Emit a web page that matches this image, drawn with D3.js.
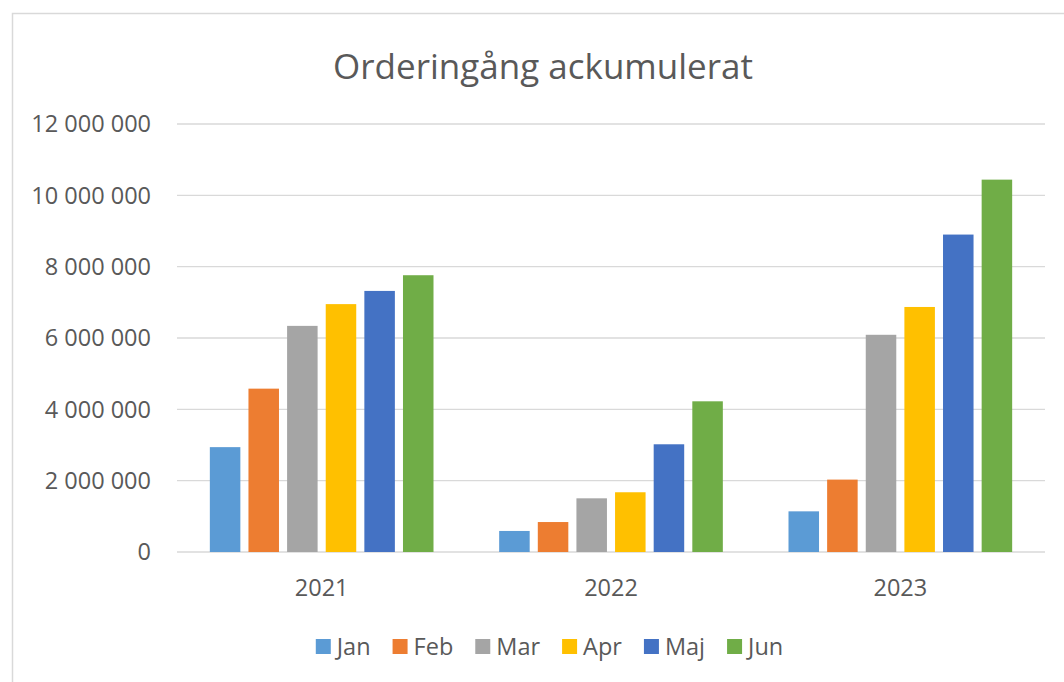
<!DOCTYPE html>
<html>
<head>
<meta charset="utf-8">
<script src="https://cdn.jsdelivr.net/npm/d3@7"></script>
<style>
  body { margin: 0; background: #fff; }
  text { font-family: "Open Sans", sans-serif; fill: #595959; }
</style>
</head>
<body>
<svg id="chart" width="1064" height="682"></svg>
<script>
// chart data
const years = ['2021', '2022', '2023'];
const months = ['Jan', 'Feb', 'Mar', 'Apr', 'Maj', 'Jun'];
const jan = [2940000, 590000, 1140000];
const feb = [4580000, 840000, 2030000];
const mar = [6340000, 1505000, 6090000];
const apr = [6950000, 1675000, 6870000];
const maj = [7320000, 3020000, 8900000];
const jun = [7760000, 4225000, 10440000];
const yTicks = [0, 2000000, 4000000, 6000000, 8000000, 10000000, 12000000];
const colors = ['#5b9bd5', '#ed7d31', '#a5a5a5', '#ffc000', '#4472c4', '#70ad47'];

const series = [jan, feb, mar, apr, maj, jun];

const svg = d3.select('#chart');
const width = 1064;
const height = 682;
const margin = { top: 124, right: 19, bottom: 130, left: 177 };

// outer frame
svg.append('rect')
  .attr('x', 12.5).attr('y', 13.5)
  .attr('width', width).attr('height', height)
  .attr('fill', '#fff')
  .attr('stroke', '#d9d9d9')
  .attr('stroke-width', 1.5);

svg.append('text')
  .attr('x', 543)
  .attr('y', 79)
  .attr('text-anchor', 'middle')
  .style('font-size', '35px')
  .text('Orderingång ackumulerat');

const x0 = d3.scaleBand()
  .domain(years)
  .range([margin.left, width - margin.right]);

const x1 = d3.scaleBand()
  .domain(months)
  .range([0, x0.bandwidth()])
  .paddingInner(0.21)
  .paddingOuter(0.85);

const y = d3.scaleLinear()
  .domain([0, 12000000])
  .range([height - margin.bottom, margin.top]);

const fmt = v => d3.format(',')(v).replace(/,/g, ' ');

// gridlines
svg.append('g')
  .selectAll('line')
  .data(yTicks)
  .enter().append('line')
  .attr('x1', margin.left)
  .attr('x2', width - margin.right)
  .attr('y1', d => y(d))
  .attr('y2', d => y(d))
  .attr('stroke', '#d9d9d9')
  .attr('stroke-width', 1.3);

// y labels
svg.append('g')
  .selectAll('text')
  .data(yTicks)
  .enter().append('text')
  .attr('x', 151)
  .attr('y', d => y(d))
  .attr('dy', '0.35em')
  .attr('text-anchor', 'end')
  .style('font-size', '23.5px')
  .text(d => fmt(d));

// bars
const groups = svg.append('g')
  .selectAll('g')
  .data(years)
  .enter().append('g')
  .attr('transform', d => `translate(${x0(d)},0)`);

groups.selectAll('rect')
  .data((d, i) => months.map((m, j) => ({ month: m, value: series[j][i], color: colors[j] })))
  .enter().append('rect')
  .attr('x', d => x1(d.month))
  .attr('width', x1.bandwidth())
  .attr('y', d => y(d.value))
  .attr('height', d => y(0) - y(d.value))
  .attr('fill', d => d.color);

// x labels
svg.append('g')
  .selectAll('text')
  .data(years)
  .enter().append('text')
  .attr('x', d => x0(d) + x0.bandwidth() / 2)
  .attr('y', 596)
  .attr('text-anchor', 'middle')
  .style('font-size', '23.5px')
  .text(d => d);

// legend
const legend = svg.append('g');
let lx = 0;
const items = legend.selectAll('g')
  .data(months)
  .enter().append('g');

items.append('rect')
  .attr('width', 15)
  .attr('height', 15)
  .attr('y', 639)
  .attr('fill', (d, i) => colors[i]);

items.append('text')
  .attr('x', 21)
  .attr('y', 655)
  .style('font-size', '23.5px')
  .text(d => d);

items.each(function () {
  const g = d3.select(this);
  g.attr('transform', `translate(${lx},0)`);
  lx += 21 + g.select('text').node().getComputedTextLength() + 22;
});
const legendWidth = lx - 22;
legend.attr('transform', `translate(${549.5 - legendWidth / 2},0)`);
</script>
</body>
</html>
